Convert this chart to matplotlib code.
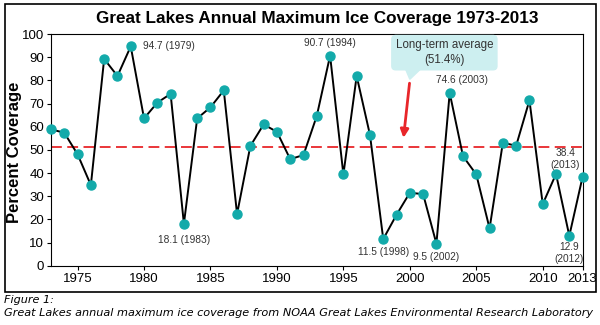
import matplotlib
matplotlib.use('Agg')
import matplotlib.pyplot as plt
from matplotlib.patches import Rectangle
import numpy as np

years = list(range(1973, 2014))
coverage = [58.9, 57.4, 48.1, 34.8, 89.3, 81.9, 94.7, 63.6, 70.4, 74.2,
            18.1, 63.6, 68.4, 75.7, 22.3, 51.7, 61.0, 57.8, 46.0, 47.8,
            64.7, 90.7, 39.4, 81.9, 56.5, 11.5, 22.0, 31.5, 30.9, 9.5,
            74.6, 47.3, 39.4, 16.1, 53.1, 51.8, 71.4, 26.6, 39.6, 12.9, 38.4]
long_term_avg = 51.4
xtick_years = [1975, 1980, 1985, 1990, 1995, 2000, 2005, 2010, 2013]

plt.rcParams['font.family'] = ['Liberation Sans', 'DejaVu Sans']

fig = plt.figure(figsize=(6, 3.25), dpi=100)
ax = fig.add_axes([0.085, 0.1825, 0.886, 0.7125])

ax.axhline(long_term_avg, color='#e8262a', lw=1.3, ls=(0, (6, 3)), zorder=1)
ax.plot(years, coverage, color='black', lw=1.4, zorder=2)
ax.plot(years, coverage, 'o', color='#13aaaa', ms=6.5, mec='#13aaaa', zorder=3, clip_on=False)

ax.set_xlim(1973, 2013)
ax.set_ylim(0, 100)
ax.set_yticks(range(0, 101, 10))
ax.set_xticks(xtick_years)
ax.tick_params(direction='out', length=3, labelsize=9.5, pad=2)
ax.set_ylabel('Percent Coverage', fontsize=12, fontweight='bold', va='center')
ax.yaxis.set_label_coords(-0.068, 0.49)
ax.set_title('Great Lakes Annual Maximum Ice Coverage 1973-2013',
             fontsize=12.3, fontweight='bold', pad=8)

# point labels
lbl = dict(fontsize=7.3, color='#333333')
ax.text(1979.9, 94.7, '94.7 (1979)', ha='left', va='center', **lbl)
ax.text(1983, 11, '18.1 (1983)', ha='center', va='center', **lbl)
ax.text(1994, 96, '90.7 (1994)', ha='center', va='center', **lbl)
ax.text(1998, 5.8, '11.5 (1998)', ha='center', va='center', **lbl)
ax.text(2002, 3.8, '9.5 (2002)', ha='center', va='center', **lbl)
ax.text(2003.9, 80.3, '74.6 (2003)', ha='center', va='center', **lbl)
ax.text(2012, 5.5, '12.9\n(2012)', ha='center', va='center', linespacing=1.3, **lbl)
ax.text(2011.7, 46.2, '38.4\n(2013)', ha='center', va='center', linespacing=1.3, **lbl)

# callout
ax.annotate('', xy=(1999.5, 54), xytext=(2000, 80),
            arrowprops=dict(arrowstyle='-|>', color='#e8262a', lw=2, mutation_scale=12))
ax.text(2002.6, 92, 'Long-term average\n(51.4%)', ha='center', va='center',
        fontsize=8.3, color='#333333', linespacing=1.3,
        bbox=dict(boxstyle='round,pad=0.33', fc='#cdeff0', ec='#cdeff0'))
ax.fill([1999.6, 2000.0, 2001.0], [86, 80.5, 86], color='#cdeff0', zorder=2)

# outer frame and caption
fig.patches.append(Rectangle((0.008, 0.103), 0.985, 0.884, transform=fig.transFigure,
                             fill=False, ec='black', lw=1.2))
fig.text(0.006, 0.077, 'Figure 1:', family='DejaVu Sans', style='italic', fontsize=8.1, va='center')
fig.text(0.006, 0.037, 'Great Lakes annual maximum ice coverage from NOAA Great Lakes Environmental Research Laboratory',
         family='DejaVu Sans', style='italic', fontsize=8.1, va='center')

fig.savefig('out.png', dpi=100)
